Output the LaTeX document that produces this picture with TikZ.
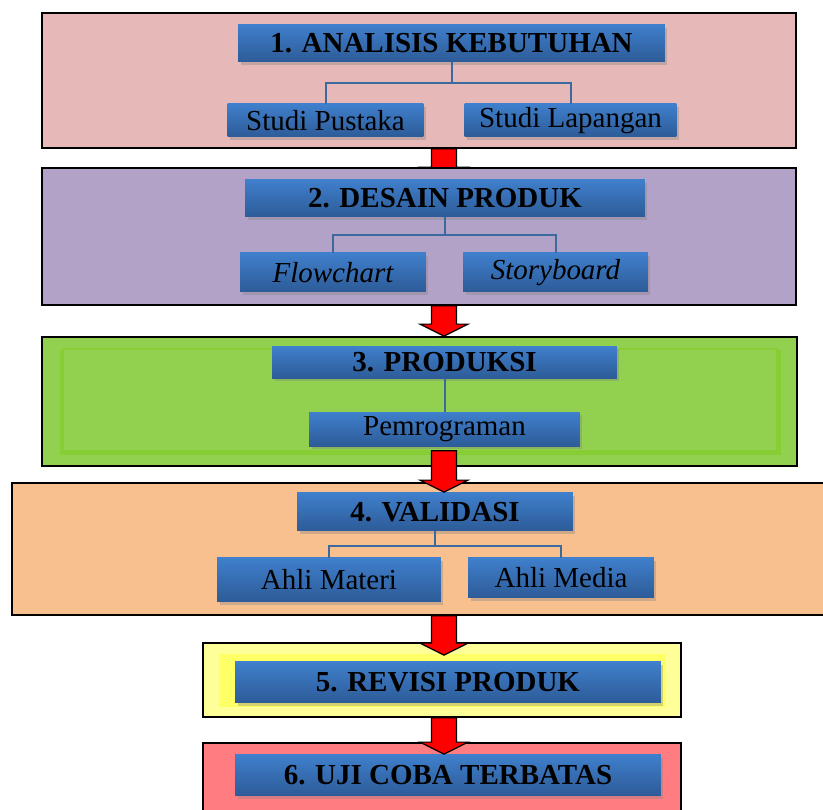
\documentclass[tikz,border=0pt]{standalone}
\usepackage{fontspec}
\setmainfont{Liberation Serif}
\usepackage{tikz}
\usetikzlibrary{positioning}
\usetikzlibrary{calc,shadows,backgrounds}
\usepackage{xcolor}

\definecolor{stagepink}{HTML}{E6B8B7}
\definecolor{stagepurple}{HTML}{B3A2C7}
\definecolor{stagegreen}{HTML}{92D050}
\definecolor{stageorange}{HTML}{F9C08F}
\definecolor{stageyellow}{HTML}{FFFF99}
\definecolor{stagered}{HTML}{FF7C80}
\definecolor{glowgreen}{HTML}{86CE34}
\definecolor{glowyellow}{HTML}{FFFF66}
\definecolor{boxtop}{HTML}{3F7FCC}
\definecolor{boxbottom}{HTML}{2D5B97}
\definecolor{linkblue}{HTML}{3C6A9F}

% red block arrow: #1 = start of shaft, #2 = tip
\newcommand{\stagearrow}[2]{%
    \draw[redarrow] ($(#1)+(-12.5,0)$) -- ($(#2)+(-12.5,-12)$) -- ($(#2)+(-24,-12)$) -- (#2)
        -- ($(#2)+(24,-12)$) -- ($(#2)+(12.5,-12)$) -- ($(#1)+(12.5,0)$) -- cycle;}

\begin{document}
\begin{tikzpicture}[
    x=0.02cm, y=-0.02cm,
    stage/.style={rectangle, draw=black, line width=1pt, inner sep=0pt},
    bluebox/.style={rectangle, inner sep=0pt, top color=boxtop, bottom color=boxbottom,
        drop shadow={shadow xshift=0.05cm, shadow yshift=-0.06cm, opacity=0.35},
        font=\fontsize{16.5}{19}\selectfont},
    head/.style={bluebox, font=\fontsize{16.5}{19}\selectfont\bfseries},
    link/.style={draw=linkblue, line width=0.04cm},
    redarrow/.style={fill=red, draw=black, line width=0.7pt, line join=miter}
]
    \useasboundingbox (0,0) rectangle (823,810);

    % Stage frames
    \node[stage, fill=stagepink, minimum width=15.08cm, minimum height=2.7cm] (pink) at (419,80.5) {};
    \node[stage, fill=stagepurple, minimum width=15.08cm, minimum height=2.74cm] (purple) at (419,236.5) {};
    \node[stage, fill=stagegreen, minimum width=15.1cm, minimum height=2.58cm] (green) at (419.5,401.5) {};
    \node[stage, fill=stageorange, minimum width=16.36cm, minimum height=2.64cm] (orange) at (421,549) {};
    \node[stage, fill=stageyellow, minimum width=9.56cm, minimum height=1.48cm] (yellow) at (442,680) {};
    \node[stage, fill=stagered, minimum width=9.56cm, minimum height=1.44cm] (red) at (442,779) {};

    % Glow inside frames 3 and 5
    \draw[glowgreen, line width=0.1cm] (62,350) -- (62,453) -- (778,453) -- (778,350);
    \draw[glowgreen, line width=0.04cm] (62,349) -- (778,349);
    \fill[glowyellow] (219,654) rectangle (666,707);

    % Stage titles
    \node[head, minimum width=8.54cm, minimum height=0.74cm] (analisis) at (451.5,43.5) {1. ANALISIS KEBUTUHAN};
    \node[head, minimum width=8cm, minimum height=0.74cm] (desain) at (445,198.5) {2. DESAIN PRODUK};
    \node[head, minimum width=6.9cm, minimum height=0.64cm] (produksi) at (444.5,362.5) {3. PRODUKSI};
    \node[head, minimum width=5.52cm, minimum height=0.76cm] (validasi) at (435,512) {4. VALIDASI};
    \node[head, minimum width=8.52cm, minimum height=0.82cm] (revisi) at (448,682.5) {5. REVISI PRODUK};
    \node[head, minimum width=8.52cm, minimum height=0.82cm] (ujicoba) at (448,775.5) {6. UJI COBA TERBATAS};

    % Sub activities
    \node[bluebox, minimum width=3.92cm, minimum height=0.66cm, text depth=0.02cm] (pustaka) at (325.5,120.5) {Studi Pustaka};
    \node[bluebox, minimum width=4.24cm, minimum height=0.66cm] (lapangan) at (570.5,120.5) {Studi Lapangan};
    \node[bluebox, minimum width=3.72cm, minimum height=0.78cm] (flowchart) at (333,272.5) {\itshape Flowchart};
    \node[bluebox, minimum width=3.7cm, minimum height=0.78cm] (storyboard) at (555.5,272.5) {\itshape Storyboard};
    \node[bluebox, minimum width=5.42cm, minimum height=0.68cm] (pemrograman) at (444.5,429.5) {Pemrograman};
    \node[bluebox, minimum width=4.48cm, minimum height=0.88cm] (materi) at (329,580) {Ahli Materi};
    \node[bluebox, minimum width=3.72cm, minimum height=0.8cm] (media) at (561,578) {Ahli Media};

    % Tree links
    \draw[link] (analisis.south) -- ++(0,21) -| (pustaka.north);
    \draw[link] (analisis.south) -- ++(0,21) -| (lapangan.north);
    \draw[link] (desain.south) -- ++(0,18) -| (flowchart.north);
    \draw[link] (desain.south) -- ++(0,18) -| (storyboard.north);
    \draw[link] (produksi.south) -- (pemrograman.north);
    \draw[link] (validasi.south) -- ++(0,15) -| (materi.north);
    \draw[link] (validasi.south) -- ++(0,15) -| (media.north);

    % Arrows between stages
    \coordinate (axis) at (444,0);
    \coordinate (a1s) at (pink.south -| axis);
    \coordinate (a1t) at ($(purple.north -| axis)+(0,12)$);
    \coordinate (a2s) at (purple.south -| axis);
    \coordinate (a2t) at (green.north -| axis);
    \coordinate (a3s) at ($(green.south -| axis)+(0,-16)$);
    \coordinate (a3t) at ($(orange.north -| axis)+(0,10)$);
    \coordinate (a4s) at (orange.south -| axis);
    \coordinate (a4t) at ($(yellow.north -| axis)+(0,13)$);
    \coordinate (a5s) at (yellow.south -| axis);
    \coordinate (a5t) at ($(red.north -| axis)+(0,12)$);
    \begin{scope}[on background layer]
        \stagearrow{a1s}{a1t}
    \end{scope}
    \stagearrow{a2s}{a2t}
    \stagearrow{a3s}{a3t}
    \stagearrow{a4s}{a4t}
    \stagearrow{a5s}{a5t}
\end{tikzpicture}
\end{document}
